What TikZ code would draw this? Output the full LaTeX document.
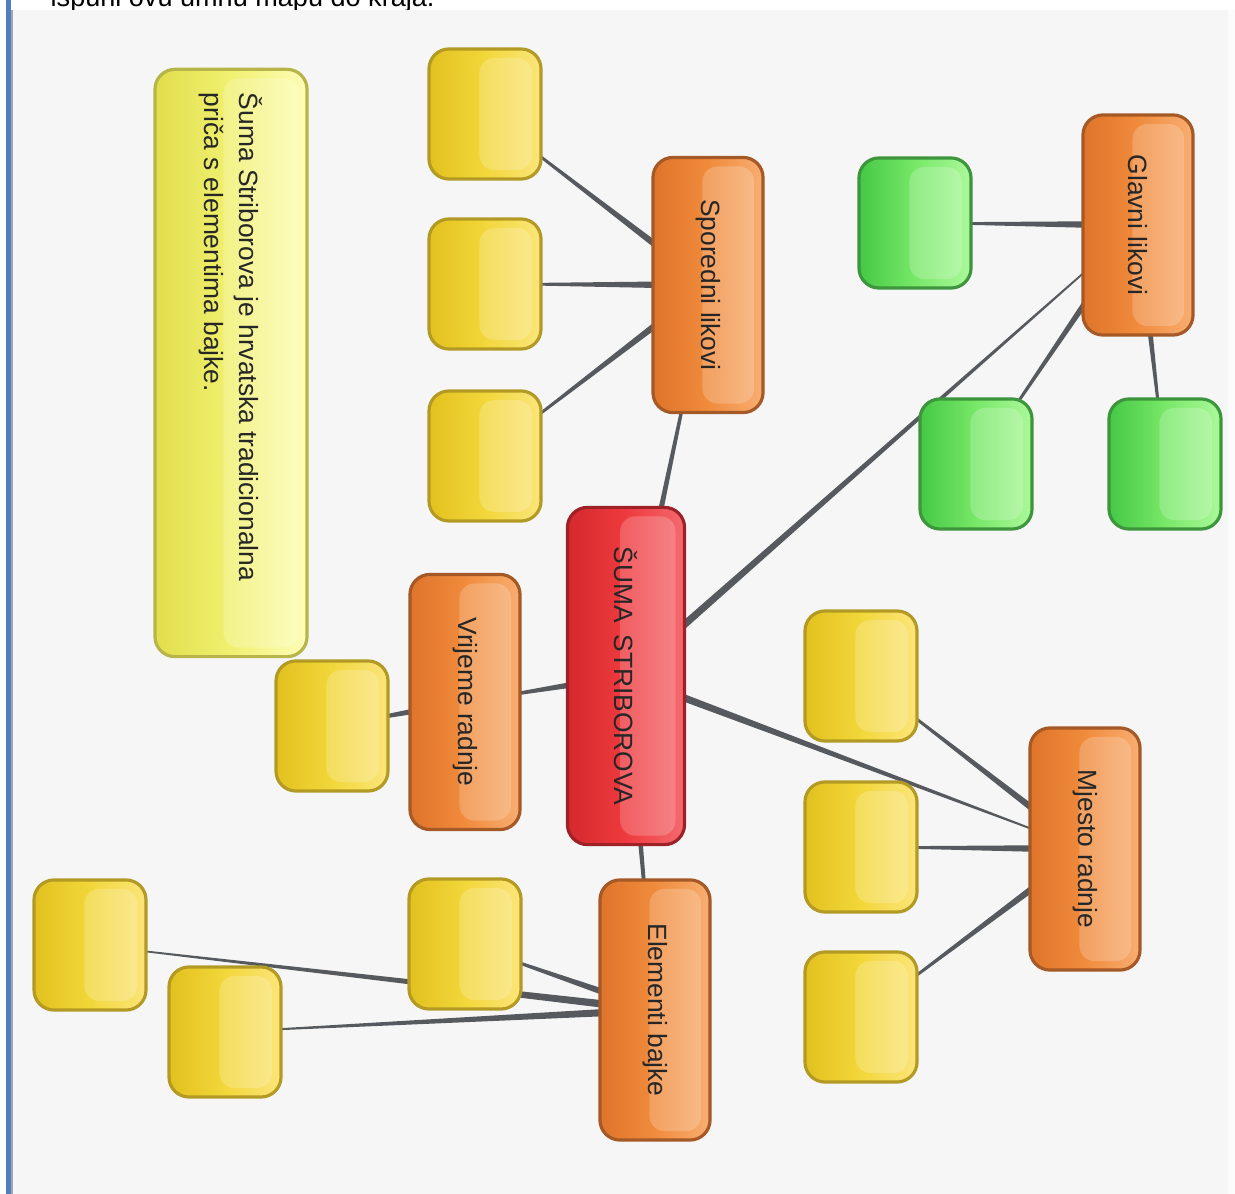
\documentclass[tikz,border=0pt]{standalone}
\usepackage{graphicx}
\usepackage{fontspec}
\setmainfont{Liberation Sans}
\usetikzlibrary{positioning}
\usetikzlibrary{calc}
\usetikzlibrary{backgrounds}

\definecolor{panelgray}{HTML}{F6F6F6}
\definecolor{pageblue}{HTML}{4F7FC0}
\definecolor{linkgray}{HTML}{56595D}
\definecolor{leafdark}{HTML}{E2C11E}
\definecolor{leafmid}{HTML}{F2D73A}
\definecolor{leaflight}{HTML}{FBE57A}
\definecolor{leafline}{HTML}{B39A24}
\definecolor{greendark}{HTML}{45C845}
\definecolor{greenmid}{HTML}{78E868}
\definecolor{greenlight}{HTML}{ABF89A}
\definecolor{greenline}{HTML}{3D953D}
\definecolor{orangedark}{HTML}{DF742A}
\definecolor{orangemid}{HTML}{F08B3C}
\definecolor{orangelight}{HTML}{F8AE72}
\definecolor{orangeline}{HTML}{A45926}
\definecolor{reddark}{HTML}{D5292D}
\definecolor{redmid}{HTML}{EE3A3F}
\definecolor{redlight}{HTML}{F46A6E}
\definecolor{redline}{HTML}{9D2126}
\definecolor{notedark}{HTML}{E0DE4C}
\definecolor{notemid}{HTML}{F1F070}
\definecolor{notelight}{HTML}{FDFDB8}
\definecolor{noteline}{HTML}{B8B548}

% tapered link: thick at the parent (#1), thin at the child (#2)
\newcommand\branch[2]{\fill[linkgray] ($(#1.center)!1.15pt!90:(#2.center)$) -- ($(#2.center)!0.15pt!-90:(#1.center)$) -- ($(#2.center)!0.15pt!90:(#1.center)$) -- ($(#1.center)!1.15pt!-90:(#2.center)$) -- cycle;}

\begin{document}
\begin{tikzpicture}[x=0.01cm,y=-0.01cm,
  base node/.style={draw,line width=0.9pt,rounded corners=0.2cm,inner sep=0pt,align=center,text=black!85,font=\fontsize{7.5}{10}\selectfont,
    path picture={\fill[white,opacity=0.2,rounded corners=0.15cm] ($(path picture bounding box.north west)!0.45!(path picture bounding box.north east)+(0,9)$) rectangle ($(path picture bounding box.south east)+(-9,-9)$);}},
  leaf node/.style={base node,minimum width=1.12cm,minimum height=1.3cm,draw=leafline,left color=leafdark,right color=leaflight,middle color=leafmid},
  green node/.style={base node,minimum width=1.12cm,minimum height=1.3cm,draw=greenline,left color=greendark,right color=greenlight,middle color=greenmid},
  topic node/.style={base node,minimum width=1.1cm,draw=orangeline,left color=orangedark,right color=orangelight,middle color=orangemid},
  root node/.style={base node,minimum width=1.17cm,minimum height=3.37cm,draw=redline,left color=reddark,right color=redlight,middle color=redmid},
  note node/.style={base node,minimum width=1.52cm,minimum height=5.87cm,draw=noteline,left color=notedark,right color=notelight,middle color=notemid}]

	\useasboundingbox (0,0) rectangle (1235,1194);

	\begin{pgfonlayer}{background}
	  \begin{scope}
	    \clip (0,0) rectangle (1235,1194);
	    \node[anchor=base west,inner sep=0pt,font=\fontsize{7.7}{9}\selectfont] (task) at (50,7) {ispuni ovu umnu mapu do kraja.};
	  \end{scope}
	  \fill[pageblue] (6,0) rectangle (11,1194);
	  \fill[black!35] (11,10) rectangle (13,1194);
	  \fill[panelgray] (13,10) rectangle (1228,1194);
	  \fill[black!1] (1228,10) rectangle (1235,1194);
	\end{pgfonlayer}

	\node[note node] (note) at (231,363) {\rotatebox{-90}{\parbox{5.4cm}{\raggedright Šuma Striborova je hrvatska tradicionalna\\ priča s elementima bajke.}}};

	\node[root node] (root) at (626,676) {\rotatebox{-90}{ŠUMA\hspace{0.45em}STRIBOROVA}};

	\node[topic node,minimum height=2.55cm] (sporedni) at (708,285) {\rotatebox{-90}{Sporedni likovi}};
	\node[topic node,minimum height=2.2cm] (glavni) at (1138,225) {\rotatebox{-90}{Glavni likovi}};
	\node[topic node,minimum height=2.55cm] (vrijeme) at (465,702) {\rotatebox{-90}{Vrijeme radnje}};
	\node[topic node,minimum height=2.42cm] (mjesto) at (1085,849) {\rotatebox{-90}{Mjesto radnje}};
	\node[topic node,minimum height=2.6cm] (elementi) at (655,1010) {\rotatebox{-90}{Elementi bajke}};

	\node[leaf node] (sp1) at (485,114) {};
	\node[leaf node] (sp2) at (485,284) {};
	\node[leaf node] (sp3) at (485,456) {};

	\node[green node] (gl1) at (915,223) {};
	\node[green node] (gl2) at (976,464) {};
	\node[green node] (gl3) at (1165,464) {};

	\node[leaf node] (vr1) at (332,726) {};

	\node[leaf node] (mj1) at (861,676) {};
	\node[leaf node] (mj2) at (861,847) {};
	\node[leaf node] (mj3) at (861,1017) {};

	\node[leaf node] (el1) at (465,944) {};
	\node[leaf node] (el2) at (90,945) {};
	\node[leaf node] (el3) at (225,1032) {};

	\begin{pgfonlayer}{background}
	  \branch{root}{sporedni}
	  \branch{root}{glavni}
	  \branch{root}{mjesto}
	  \branch{root}{elementi}
	  \branch{root}{vrijeme}
	  \branch{sporedni}{sp1}
	  \branch{sporedni}{sp2}
	  \branch{sporedni}{sp3}
	  \branch{glavni}{gl1}
	  \branch{glavni}{gl2}
	  \branch{glavni}{gl3}
	  \branch{vrijeme}{vr1}
	  \branch{mjesto}{mj1}
	  \branch{mjesto}{mj2}
	  \branch{mjesto}{mj3}
	  \branch{elementi}{el1}
	  \branch{elementi}{el2}
	  \branch{elementi}{el3}
	\end{pgfonlayer}

\end{tikzpicture}
\end{document}
